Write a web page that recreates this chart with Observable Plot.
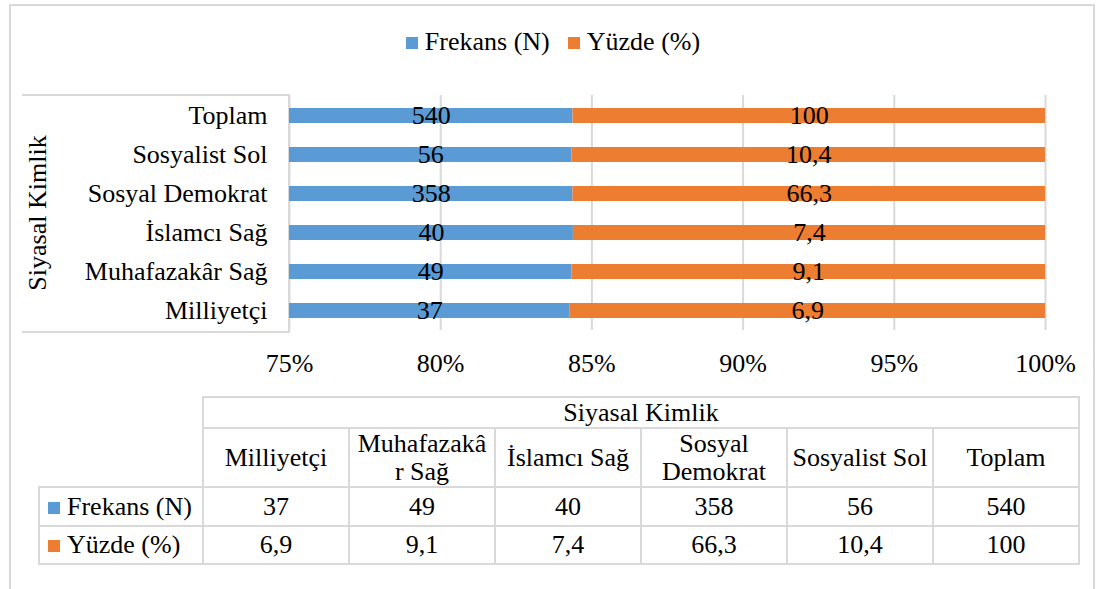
<!DOCTYPE html>
<html>
<head>
<meta charset="utf-8">
<script src="https://cdn.jsdelivr.net/npm/d3@7"></script>
<script src="https://cdn.jsdelivr.net/npm/@observablehq/plot@0.6"></script>
<style>
  html, body { margin: 0; padding: 0; background: #fff; }
  body { font-family: "Liberation Serif", "Times New Roman", serif; color: #000; }
  #wrap { position: relative; width: 1106px; height: 589px; overflow: hidden; }
  #frame { position: absolute; left: 9px; top: 4px; width: 1086px; height: 640px; border: 2px solid #d9d9d9; box-sizing: border-box; }
  #labelbox { position: absolute; left: 22px; top: 94px; width: 268px; height: 239px; border: 2px solid #d9d9d9; border-left: none; box-sizing: border-box; background: #fff; }
  #legend { position: absolute; left: 0; top: 25px; width: 1106px; text-align: center; font-size: 26px; line-height: 34px; }
  #legend span.item { display: inline-block; margin: 0 9px; }
  #legend span.sw { display: inline-block; width: 12px; height: 12px; margin-right: 7px; vertical-align: 1px; }
  #chart { position: absolute; left: 0; top: 80px; }
  #table { position: absolute; left: 38px; top: 396px; border-collapse: collapse; table-layout: fixed; font-size: 26px; }
  #table td { border: 2px solid #d9d9d9; text-align: center; padding: 0; line-height: 28px; }
  #table td.blank { border: none; }
  #table td.key { text-align: left; padding-left: 8px; white-space: nowrap; }
  #table span.sw { display: inline-block; width: 12px; height: 12px; margin-right: 7px; vertical-align: 1px; }
</style>
</head>
<body>
<div id="wrap">
  <div id="frame"></div>
  <div id="labelbox"></div>
  <div id="legend"></div>
  <div id="chart"></div>
  <table id="table"></table>
</div>
<script>
// ---- data ----
const categories = ["Milliyetçi", "Muhafazakâr Sağ", "İslamcı Sağ", "Sosyal Demokrat", "Sosyalist Sol", "Toplam"];
const tableHeaders = ["Milliyetçi", "Muhafazakâ\nr Sağ", "İslamcı Sağ", "Sosyal\nDemokrat", "Sosyalist Sol", "Toplam"];
const frekans = [37, 49, 40, 358, 56, 540];
const yuzde = [6.9, 9.1, 7.4, 66.3, 10.4, 100];
const seriesNames = ["Frekans (N)", "Yüzde (%)"];
const seriesColors = ["#5b9bd5", "#ed7d31"];
const xTicks = [0.75, 0.80, 0.85, 0.90, 0.95, 1.00];
const axisTitle = "Siyasal Kimlik";

const fmt = v => String(v).replace(".", ",");

// long table for stacked bars
const rows = [];
categories.forEach((c, i) => {
  rows.push({cat: c, series: seriesNames[0], value: frekans[i]});
  rows.push({cat: c, series: seriesNames[1], value: yuzde[i]});
});

// label positions: middle of the visible part of each segment
const xMin = xTicks[0], xMax = xTicks[xTicks.length - 1];
const labels = [];
categories.forEach((c, i) => {
  const share = frekans[i] / (frekans[i] + yuzde[i]);
  labels.push({cat: c, x: (xMin + share) / 2, text: fmt(frekans[i])});
  labels.push({cat: c, x: (share + xMax) / 2, text: fmt(yuzde[i])});
});

const yOrder = categories.slice().reverse();

const plot = Plot.plot({
  width: 1106,
  height: 300,
  marginLeft: 289,
  marginRight: 61,
  marginTop: 15,
  marginBottom: 50,
  style: {background: "transparent", fontFamily: "Liberation Serif, Times New Roman, serif", fontSize: "26px", color: "#000"},
  x: {domain: [xMin, xMax], ticks: xTicks, tickFormat: d => Math.round(d * 100) + "%", tickSize: 0, tickPadding: 23, label: null},
  y: {domain: yOrder, paddingInner: 0.62, paddingOuter: 0.31, tickSize: 0, tickPadding: 22, label: axisTitle, labelAnchor: "center", labelOffset: 262},
  color: {domain: seriesNames, range: seriesColors},
  marks: [
    Plot.ruleX(xTicks, {stroke: "#d9d9d9", strokeWidth: 2}),
    Plot.barX(rows, Plot.stackX({x: "value", y: "cat", fill: "series", offset: "normalize", order: seriesNames, clip: true})),
    Plot.text(labels, {x: "x", y: "cat", text: "text", fill: "#000", fontSize: 26})
  ]
});
document.getElementById("chart").appendChild(plot);

// legend
const legend = document.getElementById("legend");
seriesNames.forEach((s, i) => {
  const item = document.createElement("span");
  item.className = "item";
  item.innerHTML = `<span class="sw" style="background:${seriesColors[i]}"></span>${s}`;
  legend.appendChild(item);
});

// data table
const table = document.getElementById("table");
const cg = document.createElement("colgroup");
cg.innerHTML = `<col style="width:164px">` + categories.map(() => `<col style="width:146px">`).join("");
table.appendChild(cg);
const r1 = table.insertRow();
r1.style.height = "31px";
r1.innerHTML = `<td class="blank"></td><td colspan="${categories.length}">${axisTitle}</td>`;
const r2 = table.insertRow();
r2.style.height = "59px";
r2.innerHTML = `<td class="blank"></td>` + tableHeaders.map(h => `<td>${h.replace("\n", "<br>")}</td>`).join("");
[frekans, yuzde].forEach((vals, si) => {
  const r = table.insertRow();
  r.style.height = si === 0 ? "39px" : "38px";
  r.innerHTML = `<td class="key"><span class="sw" style="background:${seriesColors[si]}"></span>${seriesNames[si]}</td>` +
    vals.map(v => `<td>${fmt(v)}</td>`).join("");
});
</script>
</body>
</html>
